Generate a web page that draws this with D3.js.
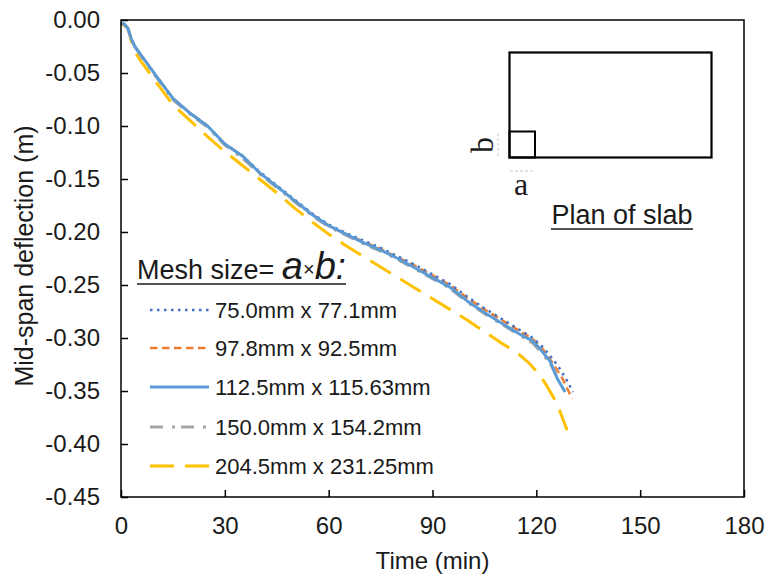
<!DOCTYPE html>
<html><head><meta charset="utf-8">
<script src="https://cdn.jsdelivr.net/npm/d3@7"></script>
<style>body{margin:0;background:#fff}svg{display:block}text{font-family:"Liberation Sans",Arial,sans-serif;fill:#1a1a1a}</style>
</head><body><svg id="c" width="768" height="577"></svg>
<script>
const xTicks = [0,30,60,90,120,150,180];
const yTicks = [0,-0.05,-0.10,-0.15,-0.20,-0.25,-0.30,-0.35,-0.40,-0.45];
const seriesNames = ["75.0mm x 77.1mm","97.8mm x 92.5mm","112.5mm x 115.63mm","150.0mm x 154.2mm","204.5mm x 231.25mm"];

const t1 = [0,1,2,3,4,6,10,15,20,25,30,35,40,45,50,55,60,65,70,75,80,85,90,95,100,105,110,115,119,122,125,127,129,130.6];
const v1 = [-0.003,-0.004,-0.008,-0.018,-0.025,-0.034,-0.052,-0.074,-0.088,-0.100,-0.117,-0.128,-0.143,-0.156,-0.169,-0.182,-0.193,-0.201,-0.208,-0.215,-0.223,-0.231,-0.240,-0.249,-0.261,-0.272,-0.282,-0.292,-0.300,-0.309,-0.321,-0.330,-0.341,-0.351];
const t2 = [0,1,2,3,4,6,10,15,20,25,30,35,40,45,50,55,60,65,70,75,80,85,90,95,100,105,110,115,119,122,125,127.5,130.3];
const v2 = [-0.003,-0.004,-0.008,-0.018,-0.025,-0.034,-0.052,-0.074,-0.088,-0.100,-0.117,-0.128,-0.144,-0.157,-0.170,-0.183,-0.194,-0.202,-0.209,-0.216,-0.224,-0.232,-0.241,-0.250,-0.262,-0.273,-0.283,-0.293,-0.301,-0.311,-0.325,-0.338,-0.357];
const t3 = [0,1,2,3,4,6,10,15,20,25,30,35,40,45,50,55,60,65,70,75,80,85,90,95,100,105,110,115,119,121,124,126,128.3];
const v3 = [-0.003,-0.004,-0.008,-0.018,-0.025,-0.034,-0.052,-0.074,-0.088,-0.100,-0.117,-0.128,-0.144,-0.157,-0.170,-0.183,-0.194,-0.202,-0.210,-0.217,-0.225,-0.234,-0.243,-0.252,-0.265,-0.276,-0.286,-0.296,-0.303,-0.310,-0.322,-0.338,-0.351];
const t4 = [0,1,2,3,4,6,10,15,20,25,30,35,40,45,50,55,60,65,70,75,80,85,90,95,100,105,110,115,119,121,124,126.5];
const v4 = [-0.003,-0.004,-0.008,-0.018,-0.025,-0.035,-0.053,-0.075,-0.089,-0.101,-0.118,-0.130,-0.145,-0.158,-0.171,-0.184,-0.195,-0.203,-0.211,-0.218,-0.226,-0.235,-0.244,-0.253,-0.266,-0.277,-0.287,-0.297,-0.305,-0.312,-0.324,-0.340];
const t5 = [0,1,2,3,4,6,10,15,20,25,30,35,40,45,50,55,60,65,70,75,80,85,90,95,100,105,110,114.5,118,121,123,126,128.9];
const v5 = [-0.004,-0.005,-0.008,-0.020,-0.030,-0.040,-0.058,-0.080,-0.095,-0.110,-0.124,-0.137,-0.150,-0.163,-0.177,-0.190,-0.202,-0.213,-0.223,-0.233,-0.243,-0.253,-0.263,-0.273,-0.283,-0.294,-0.305,-0.314,-0.324,-0.335,-0.345,-0.362,-0.387];

const colors = ["#4472C4","#ED7D31","#5B9BD5","#A5A5A5","#FFC000"];
const dashes = ["2.5,4.5","7.5,4.5",null,"13,9,3,6","24,11"];
const widths = [2.5,2.5,3,3,3];
const seriesT = [t1,t2,t3,t4,t5];
const seriesV = [v1,v2,v3,v4,v5];

const svg = d3.select("#c");
const L=121,R=744,T=20,B=497;
const x = d3.scaleLinear().domain([0,180]).range([L,R]);
const y = d3.scaleLinear().domain([0,-0.45]).range([T,B]);
const fmtY = d => d3.format(".2f")(d).replace("\u2212","-");

// axes
const gx = svg.append("g").attr("transform",`translate(0,${B})`)
  .call(d3.axisBottom(x).tickValues(xTicks).tickSize(-7).tickPadding(20).tickFormat(d3.format("d")));
const gy = svg.append("g").attr("transform",`translate(${L},0)`)
  .call(d3.axisLeft(y).tickValues(yTicks).tickSize(-7).tickPadding(21).tickFormat(fmtY));
[gx,gy].forEach(g=>{
  g.select(".domain").remove();
  g.selectAll(".tick line").attr("stroke","#000").attr("stroke-width",1.5);
  g.selectAll(".tick text").attr("font-size",24).attr("fill","#1a1a1a").style("font-family",'"Liberation Sans",Arial,sans-serif');
});
gx.selectAll(".tick text").attr("dy","0.71em");

// lines
const line = d3.line().x(d=>x(d[0])).y(d=>y(d[1]));
const order=[4,3,1,0,2];
order.forEach(i=>{
  const pts = seriesT[i].map((t,k)=>[t,seriesV[i][k]]);
  const p = svg.append("path").attr("d",line(pts)).attr("fill","none")
    .attr("stroke",colors[i]).attr("stroke-width",widths[i]).attr("stroke-linejoin","round");
  if(dashes[i]) p.attr("stroke-dasharray",dashes[i]);
});

// frame
svg.append("rect").attr("x",L).attr("y",T).attr("width",R-L).attr("height",B-T)
  .attr("fill","none").attr("stroke","#000").attr("stroke-width",1.5);

// axis titles
svg.append("text").attr("x",(L+R)/2).attr("y",569).attr("text-anchor","middle").attr("font-size",24).text("Time (min)");
svg.append("text").attr("transform",`translate(33,256) rotate(-90)`).attr("text-anchor","middle").attr("font-size",25).text("Mid-span deflection (m)");

// legend title
const lt = svg.append("text").attr("x",137).attr("y",279);
lt.append("tspan").attr("font-size",27).text("Mesh size= ");
lt.append("tspan").attr("font-size",38).attr("font-style","italic").text("a");
lt.append("tspan").attr("font-size",20).attr("dy",-3).text("×");
lt.append("tspan").attr("font-size",38).attr("font-style","italic").attr("dy",3).text("b");
lt.append("tspan").attr("font-size",36).attr("font-style","italic").text(":");
svg.append("line").attr("x1",137).attr("x2",346).attr("y1",284).attr("y2",284).attr("stroke","#1a1a1a").attr("stroke-width",1.5);

// legend entries
const ly = [310,348,387,427,466];
seriesNames.forEach((n,i)=>{
  const l = svg.append("line").attr("x1",150).attr("x2",209).attr("y1",ly[i]).attr("y2",ly[i])
    .attr("stroke",colors[i]).attr("stroke-width",widths[i]);
  if(dashes[i]) l.attr("stroke-dasharray",dashes[i]);
  svg.append("text").attr("x",215).attr("y",ly[i]+8).attr("font-size",22).text(n);
});

// plan of slab inset
svg.append("rect").attr("x",509.5).attr("y",52.5).attr("width",202).attr("height",105)
  .attr("fill","none").attr("stroke","#000").attr("stroke-width",2.2);
svg.append("rect").attr("x",509.5).attr("y",131.5).attr("width",25.5).attr("height",26)
  .attr("fill","none").attr("stroke","#000").attr("stroke-width",2);
svg.append("text").attr("transform","translate(493,145) rotate(-90)").attr("text-anchor","middle")
  .style("font-family",'"Liberation Serif","Times New Roman",serif').attr("font-size",32).text("b");
svg.append("text").attr("x",521).attr("y",195).attr("text-anchor","middle")
  .style("font-family",'"Liberation Serif","Times New Roman",serif').attr("font-size",32).text("a");
// faint dimension marks
svg.append("line").attr("x1",510).attr("x2",534).attr("y1",171).attr("y2",171)
  .attr("stroke","#c8c8c8").attr("stroke-width",1).attr("stroke-dasharray","3,2");
svg.append("line").attr("x1",498).attr("x2",498).attr("y1",133).attr("y2",156)
  .attr("stroke","#c8c8c8").attr("stroke-width",1).attr("stroke-dasharray","3,2");
svg.append("text").attr("x",622).attr("y",224).attr("text-anchor","middle").attr("font-size",27).text("Plan of slab");
svg.append("line").attr("x1",551).attr("x2",693).attr("y1",229).attr("y2",229).attr("stroke","#1a1a1a").attr("stroke-width",1.5);
</script></body></html>
